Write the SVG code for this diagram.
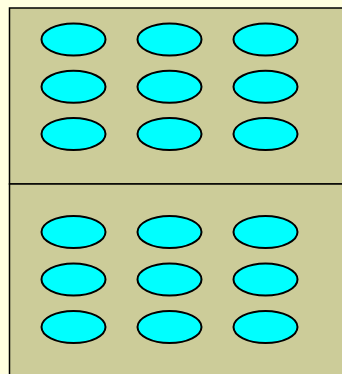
<svg xmlns="http://www.w3.org/2000/svg" width="342" height="374" viewBox="0 0 342 374">
<style>
.bg{fill:#FFFFE0}
.panel{fill:#CCCC99;stroke:#000;stroke-width:1.5}
.e{fill:#00FFFF;stroke:#000;stroke-width:2}
</style>
<rect class="bg" x="0" y="0" width="342" height="374"/>
<g id="top-panel">
<rect class="panel" x="9.5" y="8" width="340" height="176"/>
<g id="top-items">
<ellipse class="e" cx="73.5" cy="39.5" rx="32" ry="16"/>
<ellipse class="e" cx="169.5" cy="39.5" rx="32" ry="16"/>
<ellipse class="e" cx="265.5" cy="39.5" rx="32" ry="16"/>
<ellipse class="e" cx="73.5" cy="86.8" rx="32" ry="16"/>
<ellipse class="e" cx="169.5" cy="86.8" rx="32" ry="16"/>
<ellipse class="e" cx="265.5" cy="86.8" rx="32" ry="16"/>
<ellipse class="e" cx="73.5" cy="134" rx="32" ry="16"/>
<ellipse class="e" cx="169.5" cy="134" rx="32" ry="16"/>
<ellipse class="e" cx="265.5" cy="134" rx="32" ry="16"/>
</g>
</g>
<g id="bottom-panel">
<rect class="panel" x="9.5" y="184" width="340" height="200"/>
<g id="bottom-items">
<ellipse class="e" cx="73.5" cy="232" rx="32" ry="16"/>
<ellipse class="e" cx="169.5" cy="232" rx="32" ry="16"/>
<ellipse class="e" cx="265.5" cy="232" rx="32" ry="16"/>
<ellipse class="e" cx="73.5" cy="279.5" rx="32" ry="16"/>
<ellipse class="e" cx="169.5" cy="279.5" rx="32" ry="16"/>
<ellipse class="e" cx="265.5" cy="279.5" rx="32" ry="16"/>
<ellipse class="e" cx="73.5" cy="327" rx="32" ry="16"/>
<ellipse class="e" cx="169.5" cy="327" rx="32" ry="16"/>
<ellipse class="e" cx="265.5" cy="327" rx="32" ry="16"/>
</g>
</g>
<g id="connectors"/>
</svg>
